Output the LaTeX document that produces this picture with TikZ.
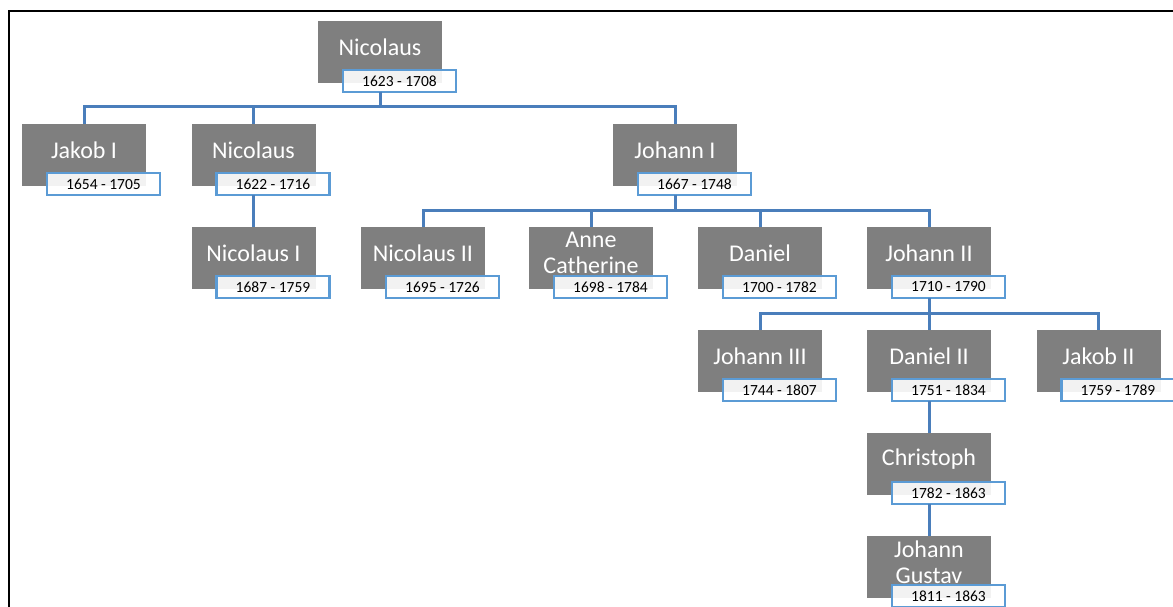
\documentclass[tikz,border=0pt]{standalone}
\usepackage{fontspec}
\setmainfont{Carlito}
\usepackage{tikz}
\usepackage{xcolor}
\definecolor{boxgray}{HTML}{7F7F7F}
\definecolor{yearblue}{HTML}{5B9BD5}
\definecolor{linkblue}{HTML}{4A7EBB}
\tikzset{
  member/.style={fill=boxgray,minimum width=124pt,minimum height=62pt,inner sep=0pt,outer sep=0pt},
  membername/.style={text=white,align=center,inner sep=0pt,font=\fontsize{24}{26}\selectfont},
  years/.style={draw=yearblue,line width=2.5pt,fill=white,fill opacity=0.9,text opacity=1,
    minimum width=113pt,minimum height=22pt,inner sep=0pt,outer sep=0pt,font=\fontsize{15.5}{18}\selectfont},
  link/.style={draw=linkblue,line width=3pt}
}
\newcommand{\Member}[4]{%
  \node[member] (#1) at (#2) {};
  \node[membername] (#1T) at ([yshift=5pt]#1.center) {#3};
  \node[years] (#1Y) at ([xshift=19.5pt,yshift=-29pt]#1.center) {#4};
}

\begin{document}
\begin{tikzpicture}[x=1pt,y=-1pt]
  \useasboundingbox (0,0) rectangle (1173,607);
  \draw[line width=2pt] (1200,11) -- (9,11) -- (9,640);

  \Member{nic}{380,52}{Nicolaus}{1623 - 1708}
  \Member{jakA}{84,155}{Jakob I}{1654 - 1705}
  \Member{nicB}{253.5,155}{Nicolaus}{1622 - 1716}
  \Member{johA}{675,155}{Johann I}{1667 - 1748}
  \Member{nicI}{253.5,258}{Nicolaus I}{1687 - 1759}
  \Member{nicII}{423,258}{Nicolaus II}{1695 - 1726}
  \Member{anne}{591,258}{Anne\\Catherine}{1698 - 1784}
  \Member{dan}{760,258}{Daniel}{1700 - 1782}
  \Member{johII}{929,258}{Johann II}{1710 - 1790}
  \Member{johIII}{760,361}{Johann III}{1744 - 1807}
  \Member{danII}{929,361}{Daniel II}{1751 - 1834}
  \Member{jakII}{1098.5,361}{Jakob II}{1759 - 1789}
  \Member{chr}{929,464}{Christoph}{1782 - 1863}
  \Member{jg}{929,567}{Johann\\Gustav}{1811 - 1863}

  % family lines
  \draw[link] (nicY.south -| nic.south) -- ++(0,15) -| (jakA.north);
  \draw[link] (nicY.south -| nic.south) -- ++(0,15) -| (nicB.north);
  \draw[link] (nicY.south -| nic.south) -- ++(0,15) -| (johA.north);
  \draw[link] (nicBY.south -| nicB.south) -- (nicI.north);
  \draw[link] (johAY.south -| johA.south) -- ++(0,15) -| (nicII.north);
  \draw[link] (johAY.south -| johA.south) -- ++(0,15) -| (anne.north);
  \draw[link] (johAY.south -| johA.south) -- ++(0,15) -| (dan.north);
  \draw[link] (johAY.south -| johA.south) -- ++(0,15) -| (johII.north);
  \draw[link] (johIIY.south -| johII.south) -- ++(0,15) -| (johIII.north);
  \draw[link] (johIIY.south -| johII.south) -- ++(0,15) -| (danII.north);
  \draw[link] (johIIY.south -| johII.south) -- ++(0,15) -| (jakII.north);
  \draw[link] (danIIY.south -| danII.south) -- (chr.north);
  \draw[link] (chrY.south -| chr.south) -- (jg.north);
\end{tikzpicture}
\end{document}
